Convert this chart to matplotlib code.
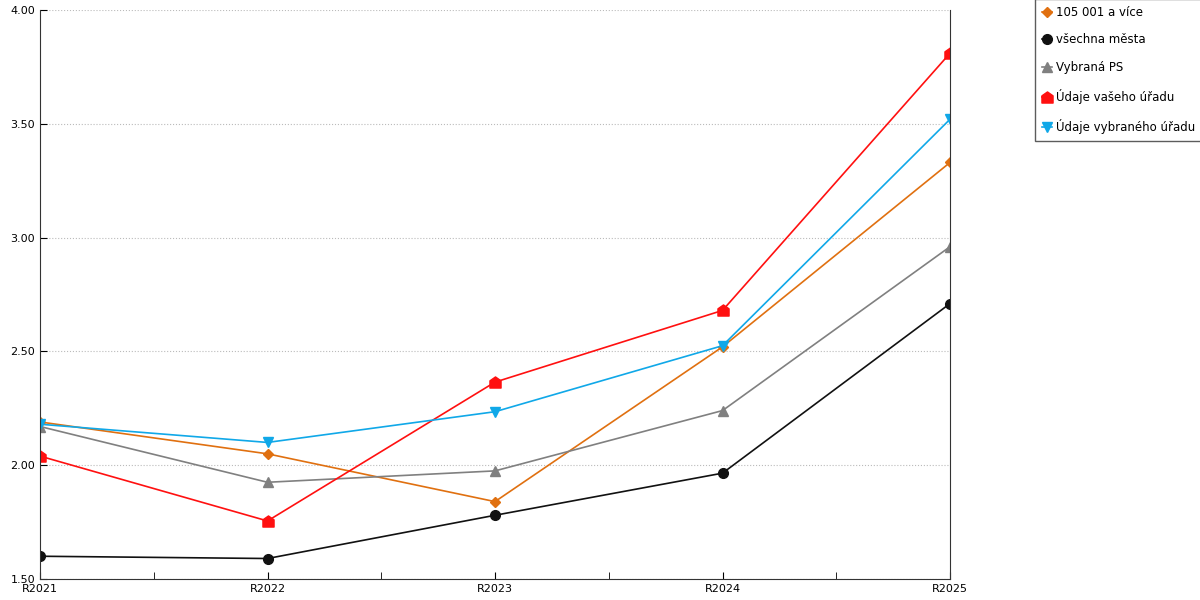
import matplotlib
matplotlib.use("Agg")
import matplotlib.pyplot as plt
from matplotlib.path import Path

years = ["R2021", "R2022", "R2023", "R2024", "R2025"]
s_105 = [2.19, 2.05, 1.84, 2.52, 3.33]
s_all = [1.60, 1.59, 1.78, 1.965, 2.71]
s_ps = [2.17, 1.925, 1.975, 2.24, 2.96]
s_vas = [2.04, 1.755, 2.365, 2.68, 3.81]
s_vyb = [2.18, 2.10, 2.235, 2.525, 3.52]

house = Path([(-1, -1), (1, -1), (1, 0.3), (0, 1), (-1, 0.3), (-1, -1)],
             [Path.MOVETO, Path.LINETO, Path.LINETO, Path.LINETO, Path.LINETO, Path.CLOSEPOLY])

fig = plt.figure(figsize=(12, 6), dpi=100)
ax = fig.add_axes([40/1200, 21/600, 910/1200, 569/600])
x = list(range(len(years)))
ax.plot(x, s_105, color="#e07010", marker="D", ms=5, lw=1.2, label="105 001 a více")
ax.plot(x, s_all, color="#111111", marker="o", ms=7, lw=1.2, label="všechna města")
ax.plot(x, s_ps, color="#808080", marker="^", ms=7, lw=1.2, label="Vybraná PS")
ax.plot(x, s_vas, color="#ff1010", marker=house, ms=8, lw=1.2, label="Údaje vašeho úřadu")
ax.plot(x, s_vyb, color="#10a8e8", marker="v", ms=7, lw=1.2, label="Údaje vybraného úřadu")

ax.set_xlim(0, 4)
ax.set_ylim(1.5, 4.0)
ax.set_yticks([1.5, 2.0, 2.5, 3.0, 3.5, 4.0])
ax.set_yticklabels([f"{v:.2f}" for v in [1.5, 2.0, 2.5, 3.0, 3.5, 4.0]])
ax.set_xticks(x)
ax.set_xticklabels(years)
ax.set_xticks([0.5, 1.5, 2.5, 3.5], minor=True)
ax.tick_params(axis="both", labelsize=8, length=5, direction="in")
ax.tick_params(axis="x", which="minor", length=5, direction="in")
ax.grid(axis="y", color="#bbbbbb", ls=":", lw=0.8)
ax.spines["top"].set_visible(False)
for s in ["left", "bottom", "right"]:
    ax.spines[s].set_color("#333333")
ax.legend(loc="upper left", bbox_to_anchor=(995/910, 1.02), fontsize=8.5, frameon=True,
          fancybox=False, edgecolor="#333333", labelspacing=1.25, handlelength=0.8,
          handletextpad=0.4, borderpad=0.6, borderaxespad=0)
fig.savefig("out.png")
